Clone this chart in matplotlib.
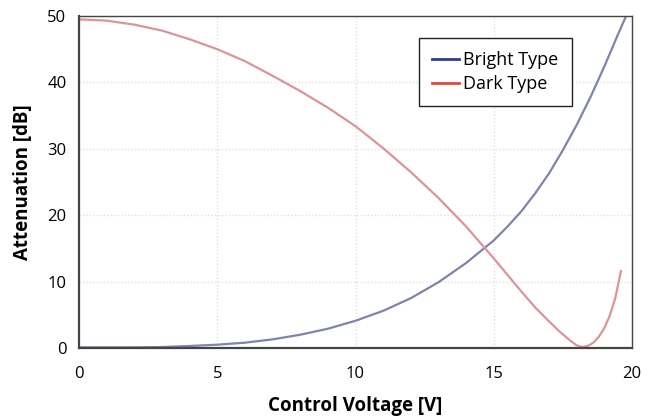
import matplotlib.pyplot as plt
import numpy as np

plt.rcParams['font.family'] = ['Open Sans', 'DejaVu Sans']

# curves
voltage_bright = [0, 1, 2, 3, 4, 5, 6, 7, 8, 9, 10, 11, 12, 13, 14, 15, 15.5, 16, 16.5,
                  17, 17.5, 18, 18.5, 19, 19.5, 20]
bright = [0.1, 0.1, 0.1, 0.15, 0.3, 0.5, 0.8, 1.3, 2.0, 2.9, 4.1, 5.6, 7.5, 9.9, 12.8,
          16.2, 18.3, 20.6, 23.3, 26.3, 29.8, 33.6, 37.8, 42.4, 47.3, 52.0]

voltage_dark = [0, 1, 2, 3, 4, 5, 6, 7, 8, 9, 10, 11, 12, 13, 14, 15, 16, 16.5, 17, 17.4,
                17.8, 18.0, 18.2, 18.4, 18.6, 18.8, 19.0, 19.2, 19.4, 19.6]
dark = [49.5, 49.3, 48.7, 47.8, 46.5, 45.0, 43.2, 41.0, 38.7, 36.2, 33.4, 30.1, 26.5,
        22.6, 18.3, 13.5, 8.5, 6.1, 4.0, 2.4, 1.0, 0.4, 0.15, 0.3, 0.8, 1.7, 3.0, 4.9,
        7.6, 11.6]

fig = plt.figure(figsize=(6.55, 4.18), dpi=100)
ax = fig.add_axes([79/655, 1 - 348/418, 553/655, 332/418])

ax.plot(voltage_bright, bright, color='#7e84aa', lw=1.6, label='_nolegend_')
ax.plot(voltage_dark, dark, color='#dc9399', lw=1.6, label='_nolegend_')
# legend proxies use the saturated colours seen in the legend box
ax.plot([], [], color='#2c3f91', lw=2, label='Bright Type')
ax.plot([], [], color='#e0473f', lw=2, label='Dark Type')

ax.set_xlim(0, 20)
ax.set_ylim(0, 50)
ax.set_xticks([0, 5, 10, 15, 20])
ax.set_yticks([0, 10, 20, 30, 40, 50])
ax.tick_params(length=0, labelsize=12, pad=13)
ax.tick_params(axis='y', pad=9)
ax.grid(True, color='#e0e0e0', ls=(0, (1, 1.5)), lw=1)

for s in ax.spines.values():
    s.set_color('#444444')
    s.set_linewidth(1.0)
ax.spines['left'].set_linewidth(1.6)
ax.spines['bottom'].set_linewidth(1.6)

ax.set_xlabel('Control Voltage [V]', fontsize=13.5, fontweight='bold', labelpad=10)
ax.set_ylabel('Attenuation [dB]', fontsize=13.5, fontweight='bold', labelpad=10)

leg = ax.legend(loc='upper right', bbox_to_anchor=(0.891, 0.934), borderaxespad=0,
                fancybox=False, framealpha=1, edgecolor='#222222', fontsize=13,
                handlelength=1.5, handletextpad=0.2, labelspacing=0.3,
                borderpad=0.75)
leg.get_frame().set_linewidth(1.0)

fig.savefig('out.png', dpi=100)
